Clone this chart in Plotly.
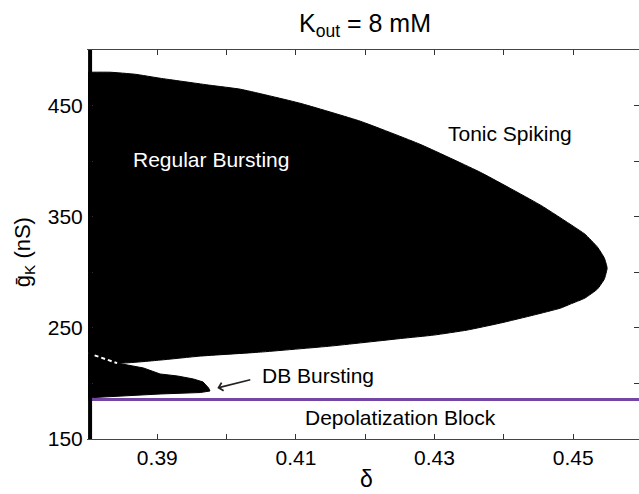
import plotly.graph_objects as go

# ---------------- data ----------------
# Regular-bursting region: upper boundary (left -> tip)
main_upper_delta = [0.3800, 0.3832, 0.3868, 0.3904, 0.3976, 0.4020, 0.4106, 0.4193,
                    0.4279, 0.4366, 0.4453, 0.4500, 0.4517, 0.4535, 0.4545, 0.4549]
main_upper_gk = [480.0, 480.0, 478.2, 474.6, 468.3, 464.7, 452.1, 435.9,
                 415.2, 390.0, 360.4, 341.5, 334.3, 322.7, 312.8, 303.8]
# Regular-bursting region: lower boundary (tip -> left)
main_lower_delta = [0.4545, 0.4535, 0.4517, 0.4496, 0.4482, 0.4443, 0.4395, 0.4347,
                    0.4299, 0.4251, 0.4150, 0.4049, 0.3962, 0.3904, 0.3842, 0.3800]
main_lower_gk = [293.9, 284.9, 276.8, 271.4, 267.8, 261.5, 254.3, 248.0,
                 243.5, 240.4, 233.6, 228.2, 224.6, 221.0, 218.3, 227.3]

# DB-bursting region outline
db_delta = [0.3800, 0.3842, 0.3880, 0.3904, 0.3929, 0.3952, 0.3966, 0.3974, 0.3976,
            0.3962, 0.3904, 0.3847, 0.3808, 0.3800]
db_gk = [227.3, 218.3, 213.9, 208.5, 206.7, 204.0, 201.3, 195.9, 193.2,
         191.8, 190.5, 188.7, 187.3, 186.0]

# dashed separator between the two bursting regions
sep_delta = [0.3800, 0.3842]
sep_gk = [227.3, 218.3]

# depolarization-block boundary
depol_gk = 185.5

# arrow (head, tail)
arrow_head = (0.39866, 195.9)
arrow_tail = (0.40385, 204.0)

# region labels
label_text = ["Regular Bursting", "Tonic Spiking", "DB Bursting", "Depolatization Block"]
label_delta = [0.39772, 0.44094, 0.41316, 0.42507]
label_gk = [401.8, 425.2, 206.7, 168.9]
label_color = ["white", "black", "black", "black"]

x_tickvals = [0.39, 0.41, 0.43, 0.45]
x_minorvals = [0.40, 0.42, 0.44]
y_tickvals = [150, 250, 350, 450]
y_minorvals = [200, 300, 400]

FONT = "Liberation Sans, Arial, Helvetica, sans-serif"

fig = go.Figure()

poly_x = main_upper_delta + main_lower_delta
poly_y = main_upper_gk + main_lower_gk
fig.add_trace(go.Scatter(x=poly_x, y=poly_y, fill="toself", fillcolor="black",
                         mode="lines", line=dict(color="black", width=1, shape="spline", smoothing=0.4),
                         hoverinfo="skip", showlegend=False))
fig.add_trace(go.Scatter(x=db_delta, y=db_gk, fill="toself", fillcolor="black",
                         mode="lines", line=dict(color="black", width=1),
                         hoverinfo="skip", showlegend=False))
fig.add_trace(go.Scatter(x=sep_delta, y=sep_gk, mode="lines",
                         line=dict(color="white", width=2, dash="4px,3px"),
                         hoverinfo="skip", showlegend=False))

X_RANGE = [0.38, 0.4595]
fig.add_trace(go.Scatter(x=X_RANGE, y=[depol_gk, depol_gk], mode="lines",
                         line=dict(color="#7346A6", width=3),
                         hoverinfo="skip", showlegend=False))

# left black strip
fig.add_shape(type="line", xref="x", yref="y", x0=0.3803, x1=0.3803, y0=150, y1=500,
              line=dict(color="black", width=4), layer="above")

annotations = []
for t, xd, yd, c in zip(label_text, label_delta, label_gk, label_color):
    annotations.append(dict(x=xd, y=yd, xref="x", yref="y", text=t, showarrow=False,
                            font=dict(family=FONT, size=21, color=c),
                            xanchor="center", yanchor="middle"))
annotations.append(dict(x=arrow_head[0], y=arrow_head[1], ax=arrow_tail[0], ay=arrow_tail[1],
                        xref="x", yref="y", axref="x", ayref="y", text=" ", showarrow=True,
                        arrowhead=4, arrowsize=1, arrowwidth=1.6, arrowcolor="#222"))
# title
annotations.append(dict(x=0.503, y=1.065, xref="paper", yref="paper",
                        text="K<sub>out</sub> = 8 mM", showarrow=False,
                        font=dict(family=FONT, size=25, color="black"),
                        xanchor="center", yanchor="middle"))
# x title
annotations.append(dict(x=0.505, y=-0.1405, xref="paper", yref="paper", text="δ",
                        showarrow=False, font=dict(family=FONT, size=23, color="black"),
                        xanchor="center", yanchor="bottom"))
# y title
annotations.append(dict(x=-0.1155, y=0.481, xref="paper", yref="paper",
                        text="ḡ<sub>K</sub> (nS)", textangle=-90, showarrow=False,
                        font=dict(family=FONT, size=22, color="black"),
                        xanchor="center", yanchor="middle"))

tick_common = dict(ticks="inside", ticklen=5, tickwidth=1.2, tickcolor="#333",
                   showgrid=False, zeroline=False, automargin=False, mirror="ticks",
                   tickfont=dict(family=FONT, size=21, color="black"))

fig.update_layout(
    width=639, height=494,
    margin=dict(l=88, r=0, t=50, b=55, pad=0, autoexpand=False),
    paper_bgcolor="white", plot_bgcolor="white",
    showlegend=False,
    annotations=annotations,
    xaxis=dict(range=X_RANGE, tickmode="array", tickvals=x_tickvals,
               showline=True, linecolor="#444", linewidth=1.3,
               minor=dict(tickvals=x_minorvals, ticks="inside", ticklen=5, tickwidth=1.2,
                          tickcolor="#333", showgrid=False),
               **tick_common),
    yaxis=dict(range=[150, 500], tickmode="array", tickvals=y_tickvals,
               showline=True, linecolor="rgba(0,0,0,0)", linewidth=1,
               minor=dict(tickvals=y_minorvals, ticks="inside", ticklen=5, tickwidth=1.2,
                          tickcolor="#333", showgrid=False),
               **tick_common),
)

fig.write_html("out.html", config={"displayModeBar": False},
               post_script="document.body.style.margin='0';document.body.style.overflow='hidden';")
